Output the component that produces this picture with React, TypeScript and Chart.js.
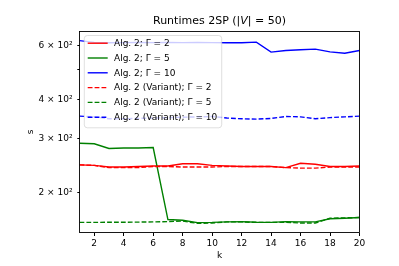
import React, { useEffect, useRef } from 'react';
import { Chart, registerables } from 'chart.js';

Chart.register(...registerables);

const ks = [1, 2, 3, 4, 5, 6, 7, 8, 9, 10, 11, 12, 13, 14, 15, 16, 17, 18, 19, 20];
const alg2G2 = [246, 245, 242, 242, 243, 244, 244, 248, 248, 245, 244, 243, 243, 243, 241, 249, 247, 243, 243, 244];
const alg2G5 = [289, 288, 278, 279, 279, 280, 163.5, 162.6, 159.8, 160, 160.6, 161, 160.2, 160, 161, 160.6, 160.6, 164.4, 165, 166];
const alg2G10 = [622, 614, 612, 613, 614, 613, 614, 613, 614, 613, 612, 612, 615, 571, 578, 581, 584, 572, 566, 578];
const varG2 = [246, 245, 241, 241, 241, 243, 243, 242, 242, 242, 243, 243, 243, 243, 241, 240, 240, 242, 242, 242];
const varG5 = [160, 160, 160.2, 160.2, 160.4, 160.6, 161, 161.6, 158.9, 159.3, 160.6, 160.6, 160, 160, 160.2, 159.3, 159.3, 165, 165.5, 166];
const varG10 = [354, 352, 347, 347, 348, 349, 350, 351, 352, 353, 349, 347, 346, 348, 353, 352, 347, 350, 352, 354];

const seriesNames = [
  'Alg. 2; Γ = 2',
  'Alg. 2; Γ = 5',
  'Alg. 2; Γ = 10',
  'Alg. 2 (Variant); Γ = 2',
  'Alg. 2 (Variant); Γ = 5',
  'Alg. 2 (Variant); Γ = 10',
];
const seriesValues = [alg2G2, alg2G5, alg2G10, varG2, varG5, varG10];
const seriesColors = ['#ff0000', '#008000', '#0000ff', '#ff0000', '#008000', '#0000ff'];
const seriesDashed = [false, false, false, true, true, true];

const yTicks = [200, 300, 400, 500, 600];
const yTickLabels = ['2 × 10²', '3 × 10²', '4 × 10²', '', '6 × 10²'];
const xTicks = [2, 4, 6, 8, 10, 12, 14, 16, 18, 20];

const FONT = "'DejaVu Sans', sans-serif";
const DASH = [4.8, 2.1];
const LW = 1.4;

const decoPlugin = {
  id: 'deco',
  afterDatasetsDraw(chart: any) {
    const { ctx, chartArea: a } = chart;
    ctx.save();
    // frame
    ctx.strokeStyle = '#000';
    ctx.lineWidth = 0.9;
    ctx.setLineDash([]);
    ctx.strokeRect(a.left, a.top, a.right - a.left, a.bottom - a.top);

    // legend
    const bx = a.left + 4.8;
    const by = a.top + 4;
    const bw = 137.4;
    const bh = 92.3;
    const r = 3;
    ctx.beginPath();
    ctx.moveTo(bx + r, by);
    ctx.lineTo(bx + bw - r, by);
    ctx.quadraticCurveTo(bx + bw, by, bx + bw, by + r);
    ctx.lineTo(bx + bw, by + bh - r);
    ctx.quadraticCurveTo(bx + bw, by + bh, bx + bw - r, by + bh);
    ctx.lineTo(bx + r, by + bh);
    ctx.quadraticCurveTo(bx, by + bh, bx, by + bh - r);
    ctx.lineTo(bx, by + r);
    ctx.quadraticCurveTo(bx, by, bx + r, by);
    ctx.closePath();
    ctx.fillStyle = 'rgba(255,255,255,0.8)';
    ctx.fill();
    ctx.strokeStyle = 'rgba(204,204,204,0.8)';
    ctx.lineWidth = 0.8;
    ctx.stroke();

    ctx.font = `9px ${FONT}`;
    ctx.textBaseline = 'middle';
    ctx.textAlign = 'left';
    chart.data.datasets.forEach((ds: any, i: number) => {
      const y = by + 7.7 + i * 14.8;
      ctx.beginPath();
      ctx.strokeStyle = ds.borderColor;
      ctx.lineWidth = LW;
      ctx.setLineDash(ds.borderDash || []);
      ctx.moveTo(bx + 3.4, y);
      ctx.lineTo(bx + 23.4, y);
      ctx.stroke();
      ctx.setLineDash([]);
      ctx.fillStyle = '#000';
      ctx.fillText(ds.label, bx + 29.7, y + 0.5);
    });

    // title with italic V
    const tParts = [
      { t: 'Runtimes 2SP (|', f: `11px ${FONT}` },
      { t: 'V', f: `italic 11px ${FONT}` },
      { t: '| = 50)', f: `11px ${FONT}` },
    ];
    let total = 0;
    tParts.forEach((p) => {
      ctx.font = p.f;
      total += ctx.measureText(p.t).width;
    });
    let tx = (a.left + a.right) / 2 - total / 2;
    ctx.textBaseline = 'middle';
    ctx.fillStyle = '#000';
    tParts.forEach((p) => {
      ctx.font = p.f;
      ctx.fillText(p.t, tx, a.top - 10);
      tx += ctx.measureText(p.t).width;
    });

    // axis labels
    ctx.font = `9px ${FONT}`;
    ctx.textAlign = 'center';
    ctx.fillText('k', (a.left + a.right) / 2, a.bottom + 23.5);
    ctx.save();
    ctx.translate(31, (a.top + a.bottom) / 2);
    ctx.rotate(-Math.PI / 2);
    ctx.fillText('s', 0, 0);
    ctx.restore();

    ctx.restore();
  },
};

export default function App() {
  const ref = useRef<HTMLCanvasElement | null>(null);
  useEffect(() => {
    document.body.style.margin = '0';
    if (!ref.current) return;
    const datasets = seriesNames.map((name, i) => ({
      label: name,
      data: ks.map((k, j) => ({ x: k, y: seriesValues[i][j] })),
      borderColor: seriesColors[i],
      backgroundColor: seriesColors[i],
      borderWidth: LW,
      borderDash: seriesDashed[i] ? DASH : [],
      pointRadius: 0,
      tension: 0,
      fill: false,
      order: seriesNames.length - i,
    }));
    const chart = new Chart(ref.current, {
      type: 'line',
      data: { datasets },
      options: {
        responsive: false,
        animation: false,
        devicePixelRatio: 1,
        layout: { padding: { left: 0, right: 39.5, top: 31.5, bottom: 0 } },
        plugins: { legend: { display: false }, title: { display: false }, tooltip: { enabled: false } },
        scales: {
          x: {
            type: 'linear',
            min: 1,
            max: 20,
            afterBuildTicks: (s: any) => {
              s.ticks = xTicks.map((v) => ({ value: v }));
            },
            afterFit: (s: any) => {
              s.height = 33.5;
            },
            grid: { display: true, drawOnChartArea: false, drawTicks: true, tickLength: 3.5, color: '#000', tickColor: '#000' },
            border: { display: false },
            ticks: { color: '#000', font: { family: FONT, size: 9 }, padding: 2.5, maxRotation: 0, autoSkip: false },
          },
          y: {
            type: 'logarithmic',
            min: 148.4,
            max: 666,
            afterBuildTicks: (s: any) => {
              s.ticks = yTicks.map((v) => ({ value: v }));
            },
            afterFit: (s: any) => {
              s.width = 79.5;
            },
            grid: { display: true, drawOnChartArea: false, drawTicks: true, tickLength: 2.2, color: '#000', tickColor: '#000' },
            border: { display: false },
            ticks: {
              color: '#000',
              font: { family: FONT, size: 9 },
              padding: 4.8,
              autoSkip: false,
              callback: (v: any) => {
                const idx = yTicks.indexOf(Number(v));
                return idx >= 0 ? yTickLabels[idx] : '';
              },
            },
          },
        },
      },
      plugins: [decoPlugin],
    });
    return () => chart.destroy();
  }, []);
  return (
    <div style={{ width: 399, height: 266 }}>
      <canvas ref={ref} width={399} height={266} style={{ display: 'block', width: 399, height: 266 }} />
    </div>
  );
}
